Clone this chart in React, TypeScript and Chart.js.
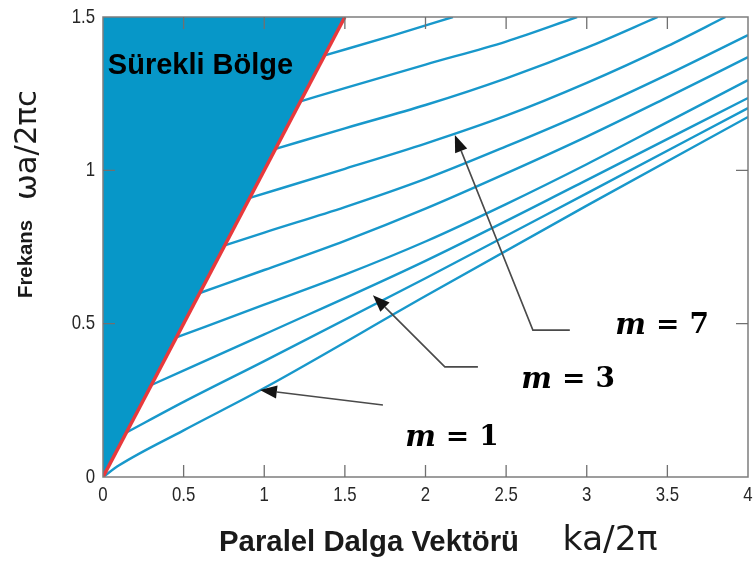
import React, { useEffect, useRef } from "react";
import { Chart, registerables } from "chart.js";

Chart.register(...registerables);

// Axis ticks and their labels
const X_TICKS = [0, 0.5, 1, 1.5, 2, 2.5, 3, 3.5, 4];
const X_TICK_LABELS = ["0", "0.5", "1", "1.5", "2", "2.5", "3", "3.5", "4"];
const Y_TICKS = [0, 0.5, 1, 1.5];
const Y_TICK_LABELS = ["0", "0.5", "1", "1.5"];

// Light line ω = ck: edge of the continuum
const LIGHT_K = [0, 1.5];
const LIGHT_W = [0, 1.5];

// Guided bands, lowest first (ka/2π → ωa/2πc)
const BAND1_K = [0, 0.1, 0.5, 1, 2, 3, 4];
const BAND1_W = [0, 0.038, 0.152, 0.29, 0.59, 0.885, 1.174];
const BAND2_K = [0.145, 0.5, 1, 2, 3, 4];
const BAND2_W = [0.145, 0.245, 0.378, 0.648, 0.925, 1.203];
const BAND3_K = [0.3, 1, 2, 3, 4];
const BAND3_W = [0.3, 0.465, 0.705, 0.968, 1.236];
const BAND4_K = [0.455, 1, 1.5, 2, 2.5, 3, 3.5, 4];
const BAND4_W = [0.455, 0.562, 0.66, 0.768, 0.89, 1.02, 1.157, 1.294];
const BAND5_K = [0.6, 1, 1.5, 2, 2.5, 3, 3.5, 4];
const BAND5_W = [0.6, 0.675, 0.77, 0.875, 0.99, 1.11, 1.238, 1.369];
const BAND6_K = [0.755, 1, 1.5, 2, 2.5, 3, 3.5, 4];
const BAND6_W = [0.755, 0.797, 0.88, 0.972, 1.078, 1.19, 1.312, 1.441];
const BAND7_K = [0.91, 1.5, 2, 2.5, 3, 3.5, 3.86];
const BAND7_W = [0.91, 1.005, 1.087, 1.178, 1.285, 1.405, 1.5];
const BAND8_K = [1.07, 1.5, 2, 2.5, 3, 3.44];
const BAND8_W = [1.07, 1.137, 1.213, 1.3, 1.4, 1.5];
const BAND9_K = [1.225, 1.5, 2, 2.5, 2.94];
const BAND9_W = [1.225, 1.268, 1.345, 1.42, 1.5];
const BAND10_K = [1.375, 1.8, 2.17];
const BAND10_W = [1.375, 1.44, 1.5];

const BANDS_K = [BAND1_K, BAND2_K, BAND3_K, BAND4_K, BAND5_K, BAND6_K, BAND7_K, BAND8_K, BAND9_K, BAND10_K];
const BANDS_W = [BAND1_W, BAND2_W, BAND3_W, BAND4_W, BAND5_W, BAND6_W, BAND7_W, BAND8_W, BAND9_W, BAND10_W];

// Texts
const CONTINUUM_LABEL = "Sürekli Bölge";
const CONTINUUM_K = 0.03;
const CONTINUUM_W = 1.34;
const X_TITLE = "Paralel Dalga Vektörü";
const X_UNIT = "ka/2π";
const Y_TITLE = "Frekans";
const Y_UNIT = "ωa/2πc";

// Mode labels and their leader arrows (tail first, tip last)
const MODE_NUMBERS = ["1", "3", "7"];
const MODE_LABEL_K = [2.164, 2.884, 3.467];
const MODE_LABEL_W = [0.127, 0.316, 0.492];
const MODE_ARROW_K = [
  [1.736, 0.973],
  [2.325, 2.12, 1.674],
  [2.895, 2.666, 2.182],
];
const MODE_ARROW_W = [
  [0.235, 0.284],
  [0.359, 0.359, 0.593],
  [0.479, 0.479, 1.115],
];

const BLUE = "#0797c8";
const BAND_COLOR = "#1898cb";
const RED = "#e8393c";
const SANS = '"Liberation Sans", Arial, sans-serif';

function toPoints(ks: number[], ws: number[]) {
  return ks.map((k, i) => ({ x: k, y: ws[i] }));
}

function fitText(
  ctx: CanvasRenderingContext2D,
  text: string,
  weight: string,
  family: string,
  width: number,
  cx: number,
  cy: number,
  angle: number
) {
  ctx.save();
  ctx.font = `${weight} 100px ${family}`;
  const w = ctx.measureText(text).width;
  const size = (100 * width) / w;
  ctx.font = `${weight} ${size}px ${family}`;
  ctx.translate(cx, cy);
  ctx.rotate(angle);
  ctx.textAlign = "center";
  ctx.textBaseline = "middle";
  ctx.fillText(text, 0, 0);
  ctx.restore();
}

// narrow tick label text
function narrowText(ctx: CanvasRenderingContext2D, text: string, x: number, y: number, align: CanvasTextAlign) {
  ctx.save();
  ctx.translate(x, y);
  ctx.scale(0.8, 1);
  ctx.textAlign = align;
  ctx.textBaseline = "middle";
  ctx.fillText(text, 0, 0);
  ctx.restore();
}

const decorations = {
  id: "decorations",
  afterDatasetsDraw(chart: any) {
    const { ctx, chartArea: a, scales } = chart;
    const xs = scales.x;
    const ys = scales.y;
    ctx.save();

    // frame
    ctx.strokeStyle = "#7d7d7d";
    ctx.lineWidth = 1.5;
    ctx.strokeRect(a.left, a.top, a.right - a.left, a.bottom - a.top);

    // inward ticks on every side
    ctx.strokeStyle = "#707070";
    ctx.lineWidth = 1.3;
    const tl = 12;
    ctx.beginPath();
    X_TICKS.slice(1, -1).forEach((v) => {
      const px = xs.getPixelForValue(v);
      ctx.moveTo(px, a.bottom);
      ctx.lineTo(px, a.bottom - tl);
      ctx.moveTo(px, a.top);
      ctx.lineTo(px, a.top + tl);
    });
    Y_TICKS.slice(1, -1).forEach((v) => {
      const py = ys.getPixelForValue(v);
      ctx.moveTo(a.left, py);
      ctx.lineTo(a.left + tl, py);
      ctx.moveTo(a.right, py);
      ctx.lineTo(a.right - tl, py);
    });
    ctx.stroke();

    // tick labels
    ctx.fillStyle = "#262626";
    ctx.font = `21px ${SANS}`;
    X_TICKS.forEach((v, i) => narrowText(ctx, X_TICK_LABELS[i], xs.getPixelForValue(v), a.bottom + 18, "center"));
    Y_TICKS.forEach((v, i) => narrowText(ctx, Y_TICK_LABELS[i], a.left - 8, ys.getPixelForValue(v), "right"));

    // continuum label
    ctx.fillStyle = "#000";
    ctx.font = `bold 29px ${SANS}`;
    ctx.textAlign = "left";
    ctx.textBaseline = "middle";
    ctx.fillText(CONTINUUM_LABEL, xs.getPixelForValue(CONTINUUM_K), ys.getPixelForValue(CONTINUUM_W));

    // leader arrows
    MODE_ARROW_K.forEach((ks, i) => {
      const pts = ks.map((k, j) => [xs.getPixelForValue(k), ys.getPixelForValue(MODE_ARROW_W[i][j])]);
      const n = pts.length;
      const [tx, ty] = pts[n - 1];
      const [px, py] = pts[n - 2];
      const ang = Math.atan2(ty - py, tx - px);
      const head = 17;
      const half = 6.5;
      const bx = tx - head * Math.cos(ang);
      const by = ty - head * Math.sin(ang);
      ctx.strokeStyle = "#4a4a4a";
      ctx.lineWidth = 1.6;
      ctx.beginPath();
      ctx.moveTo(pts[0][0], pts[0][1]);
      for (let j = 1; j < n - 1; j++) ctx.lineTo(pts[j][0], pts[j][1]);
      ctx.lineTo(bx, by);
      ctx.stroke();
      ctx.fillStyle = "#151515";
      ctx.beginPath();
      ctx.moveTo(tx, ty);
      ctx.lineTo(bx + half * Math.sin(ang), by - half * Math.cos(ang));
      ctx.lineTo(bx - half * Math.sin(ang), by + half * Math.cos(ang));
      ctx.closePath();
      ctx.fill();
    });

    // mode labels: m = n
    MODE_NUMBERS.forEach((num, i) => {
      const cx = xs.getPixelForValue(MODE_LABEL_K[i]);
      const cy = ys.getPixelForValue(MODE_LABEL_W[i]);
      const fontM = 'bold italic 29px "DejaVu Serif", "Liberation Serif", serif';
      const fontR = 'bold 28px "DejaVu Serif", "Liberation Serif", serif';
      const gap = 10;
      ctx.font = fontM;
      const wm = ctx.measureText("m").width;
      ctx.font = fontR;
      const we = ctx.measureText("=").width;
      const wn = ctx.measureText(num).width;
      const total = wm + gap + we + gap + wn;
      let x0 = cx - total / 2;
      ctx.fillStyle = "#000";
      ctx.textAlign = "left";
      ctx.textBaseline = "middle";
      ctx.font = fontM;
      ctx.fillText("m", x0, cy);
      x0 += wm + gap;
      ctx.font = fontR;
      ctx.fillText("=", x0, cy);
      x0 += we + gap;
      ctx.fillText(num, x0, cy);
    });

    ctx.restore();
  },
  afterDraw(chart: any) {
    const { ctx } = chart;
    ctx.save();
    ctx.fillStyle = "#1a1a1a";
    fitText(ctx, X_TITLE, "bold", SANS, 300, 369, 543, 0);
    fitText(ctx, X_UNIT, "normal", '"DejaVu Sans", sans-serif', 95, 610, 541, 0);
    fitText(ctx, Y_TITLE, "bold", SANS, 78, 26, 259, -Math.PI / 2);
    fitText(ctx, Y_UNIT, "normal", '"DejaVu Sans", sans-serif', 110, 28, 145, -Math.PI / 2);
    ctx.restore();
  },
};

export default function App() {
  const ref = useRef<HTMLCanvasElement | null>(null);

  useEffect(() => {
    if (!ref.current) return;
    const datasets: any[] = [];
    datasets.push({
      data: toPoints(LIGHT_K, LIGHT_W),
      borderColor: RED,
      borderWidth: 3.5,
      pointRadius: 0,
      fill: false,
    });
    BANDS_K.forEach((ks, i) => {
      datasets.push({
        data: toPoints(ks, BANDS_W[i]),
        borderColor: BAND_COLOR,
        borderWidth: 2.4,
        pointRadius: 0,
        fill: false,
        cubicInterpolationMode: "monotone",
      });
    });
    // continuum region above the light line
    datasets.push({
      data: toPoints(LIGHT_K, LIGHT_W),
      borderWidth: 0,
      borderColor: BLUE,
      backgroundColor: BLUE,
      pointRadius: 0,
      fill: "end",
    });

    const noPad = (s: any) => {
      s.paddingLeft = 0;
      s.paddingRight = 0;
      s.paddingTop = 0;
      s.paddingBottom = 0;
    };

    const chart = new Chart(ref.current, {
      type: "scatter",
      data: { datasets },
      options: {
        animation: false,
        responsive: false,
        showLine: true,
        layout: { padding: { top: 17, right: 5, left: 0, bottom: 0 } },
        plugins: { legend: { display: false }, tooltip: { enabled: false } },
        scales: {
          x: {
            type: "linear",
            min: 0,
            max: 4,
            afterFit: (s: any) => {
              s.height = 86;
              noPad(s);
            },
            afterBuildTicks: (s: any) => {
              s.ticks = X_TICKS.map((v) => ({ value: v }));
            },
            grid: { display: false, drawTicks: false },
            border: { display: false },
            ticks: { display: false },
          },
          y: {
            type: "linear",
            min: 0,
            max: 1.5,
            afterFit: (s: any) => {
              s.width = 103;
              noPad(s);
            },
            afterBuildTicks: (s: any) => {
              s.ticks = Y_TICKS.map((v) => ({ value: v }));
            },
            grid: { display: false, drawTicks: false },
            border: { display: false },
            ticks: { display: false },
          },
        },
      },
      plugins: [decorations],
    });
    return () => chart.destroy();
  }, []);

  return (
    <div style={{ position: "fixed", left: 0, top: 0, width: 753, height: 563, background: "#fff" }}>
      <canvas ref={ref} width={753} height={563} />
    </div>
  );
}
